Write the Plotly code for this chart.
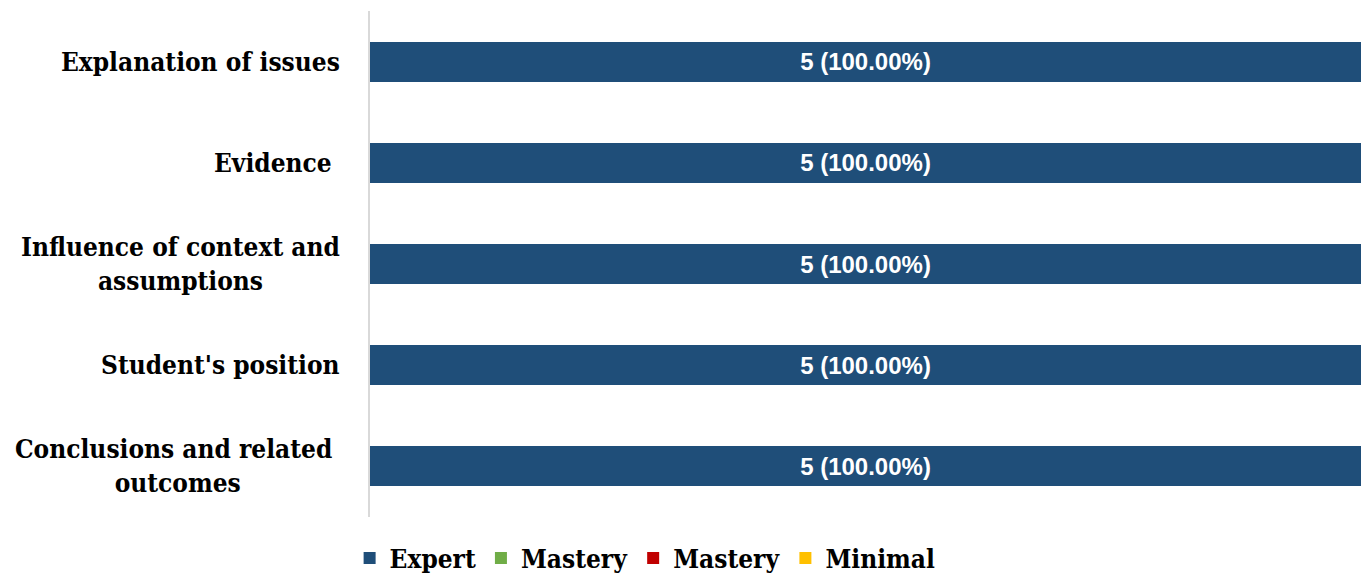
import plotly.graph_objects as go

# Rubric criteria (top to bottom) and counts per performance level
criteria = [
    "Explanation of issues",
    "Evidence\u00a0",
    "Influence of context and<br>assumptions",
    "Student's position",
    "Conclusions and related\u00a0<br>outcomes",
]
expert = [5, 5, 5, 5, 5]
mastery_a = [0, 0, 0, 0, 0]
mastery_b = [0, 0, 0, 0, 0]
minimal = [0, 0, 0, 0, 0]
total = [5, 5, 5, 5, 5]

levels = [
    ("Expert", expert, "#1F4E79"),
    ("Mastery", mastery_a, "#70AD47"),
    ("Mastery", mastery_b, "#C00000"),
    ("Minimal", minimal, "#FFC000"),
]

serif = "DejaVu Serif Condensed, DejaVu Serif, serif"

fig = go.Figure()
for name, vals, color in levels:
    labels = [
        f"{v} ({v / t * 100:.2f}%)" if v > 0 else "" for v, t in zip(vals, total)
    ]
    fig.add_trace(
        go.Bar(
            y=criteria,
            x=vals,
            name=name,
            orientation="h",
            marker=dict(color=color, line=dict(width=0)),
            text=labels,
            textposition="inside",
            insidetextanchor="middle",
            textangle=0,
            textfont=dict(family="Liberation Sans, Arial, sans-serif", size=24,
                          color="white", weight="bold"),
            hoverinfo="skip",
        )
    )

# Category labels: right-aligned block, lines centred within it
for c in criteria:
    fig.add_annotation(
        x=0, xref="paper", y=c, yref="y",
        text=c, showarrow=False,
        xanchor="right", yanchor="middle", align="center",
        xshift=-28,
        font=dict(family=serif, size=26, color="black", weight="bold"),
    )

fig.update_layout(
    width=1361, height=573,
    barmode="stack",
    bargap=0.605,
    plot_bgcolor="white",
    paper_bgcolor="white",
    margin=dict(l=370, r=0, t=11, b=56),
    showlegend=True,
    legend=dict(
        orientation="h",
        xref="container", yref="container",
        x=0.474, xanchor="center",
        y=0.026, yanchor="middle",
        font=dict(family=serif, size=26, color="black", weight="bold"),
        itemwidth=30,
        traceorder="normal",
    ),
    xaxis=dict(range=[0, 5], visible=False, fixedrange=True),
    yaxis=dict(
        autorange="reversed",
        showticklabels=False,
        showgrid=False,
        zeroline=False,
        showline=True,
        linecolor="#D9D9D9",
        linewidth=2,
        ticks="",
    ),
)

fig.write_html("out.html")
